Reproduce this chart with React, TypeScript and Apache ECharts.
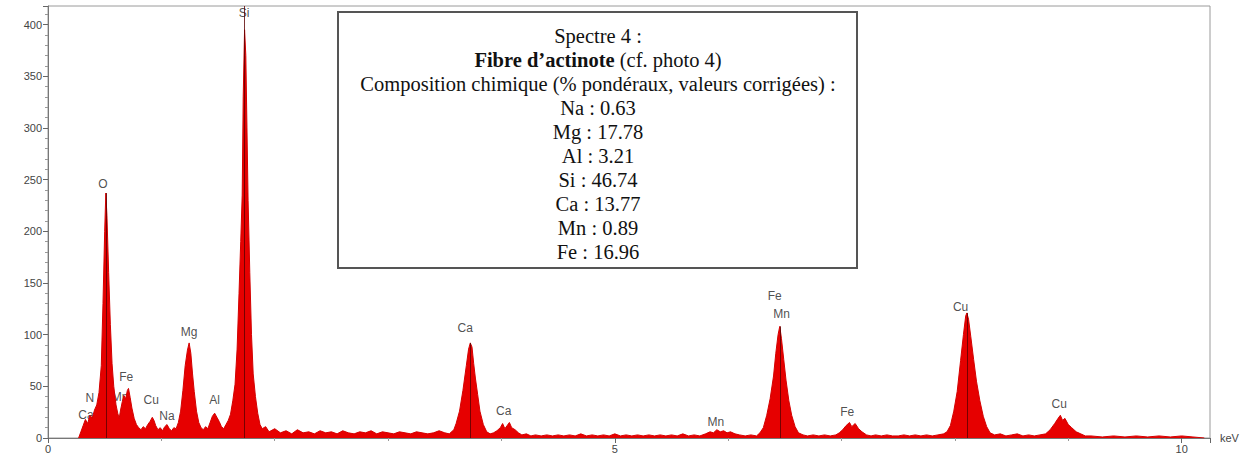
import React, { useEffect, useRef } from "react";
import * as echarts from "echarts";

// Spectrum points [keV, counts], grouped by region
const lowEnergyRegion: [number, number][] = [
  [0.27, 0], [0.29, 6], [0.31, 12], [0.33, 18], [0.35, 14], [0.37, 22], [0.39, 19], [0.41, 27],
  [0.43, 32], [0.45, 44], [0.47, 70], [0.485, 130], [0.5, 200], [0.51, 237], [0.52, 215],
  [0.535, 160], [0.55, 110], [0.565, 72], [0.58, 50], [0.6, 32], [0.615, 24], [0.628, 19],
  [0.64, 27], [0.655, 35], [0.67, 41], [0.685, 38], [0.7, 46], [0.71, 48], [0.725, 39],
  [0.74, 29], [0.76, 19], [0.78, 13], [0.8, 10], [0.82, 8], [0.84, 11], [0.86, 9], [0.88, 13],
  [0.9, 16], [0.92, 20], [0.935, 17], [0.95, 12], [0.97, 8], [0.99, 10], [1.01, 7], [1.03, 11],
  [1.05, 13], [1.07, 9], [1.09, 7], [1.11, 10], [1.13, 9], [1.15, 15], [1.17, 26], [1.19, 46],
  [1.21, 70], [1.23, 85], [1.245, 92], [1.26, 82], [1.275, 62], [1.29, 45], [1.31, 26],
  [1.33, 15], [1.35, 10], [1.37, 8], [1.39, 11], [1.41, 9], [1.43, 15], [1.45, 21], [1.47, 24],
  [1.49, 20], [1.51, 16], [1.53, 11], [1.55, 9], [1.57, 13], [1.59, 17],
];
const siliconPeak: [number, number][] = [
  [1.61, 23], [1.63, 36], [1.65, 52], [1.668, 86], [1.685, 140], [1.7, 190], [1.713, 235],
  [1.722, 330], [1.734, 395], [1.745, 370], [1.755, 300], [1.765, 230], [1.78, 160],
  [1.795, 100], [1.81, 62], [1.83, 40], [1.85, 24], [1.87, 13], [1.89, 9], [1.92, 11],
];
const midBackground: [number, number][] = [
  [1.95, 6], [2.0, 9], [2.05, 5], [2.1, 7], [2.15, 4], [2.2, 8], [2.25, 5], [2.3, 6], [2.35, 4],
  [2.4, 7], [2.45, 5], [2.5, 6], [2.55, 4], [2.6, 7], [2.65, 5], [2.7, 4], [2.75, 6], [2.8, 5],
  [2.85, 7], [2.9, 4], [2.95, 6], [3.0, 5], [3.05, 4], [3.1, 6], [3.15, 5], [3.2, 4], [3.25, 6],
  [3.3, 5], [3.35, 4], [3.4, 5], [3.45, 7], [3.5, 5], [3.54, 4],
];
const calciumPeaks: [number, number][] = [
  [3.58, 8], [3.6, 14], [3.63, 26], [3.66, 46], [3.69, 70], [3.71, 86], [3.725, 92], [3.74, 88],
  [3.755, 72], [3.77, 58], [3.79, 42], [3.81, 26], [3.84, 13], [3.87, 6], [3.9, 4], [3.93, 5],
  [3.96, 7], [3.99, 10], [4.01, 14], [4.03, 9], [4.05, 12], [4.07, 15], [4.09, 10], [4.12, 8],
  [4.15, 5], [4.18, 3], [4.22, 4], [4.26, 2], [4.3, 3],
];
const flatBackground: [number, number][] = [
  [4.35, 2], [4.4, 3], [4.45, 2], [4.5, 3], [4.55, 2], [4.6, 3], [4.65, 2], [4.7, 4], [4.75, 2],
  [4.8, 3], [4.85, 2], [4.9, 3], [4.95, 2], [5.0, 4], [5.05, 2], [5.1, 3], [5.15, 2], [5.2, 3],
  [5.25, 2], [5.3, 3], [5.35, 2], [5.4, 3], [5.45, 2], [5.5, 3], [5.55, 2], [5.6, 4], [5.65, 2],
  [5.7, 3], [5.75, 2], [5.8, 4],
];
const manganeseIronPeaks: [number, number][] = [
  [5.84, 6], [5.87, 5], [5.9, 8], [5.93, 6], [5.96, 7], [5.99, 5], [6.02, 6], [6.06, 4],
  [6.1, 3], [6.15, 2], [6.2, 3], [6.25, 2], [6.28, 5], [6.31, 10], [6.34, 22], [6.37, 38],
  [6.4, 60], [6.42, 82], [6.44, 100], [6.455, 108], [6.47, 96], [6.49, 76], [6.51, 56],
  [6.535, 36], [6.56, 22], [6.59, 11], [6.62, 5], [6.66, 3], [6.7, 2], [6.75, 3], [6.8, 2],
  [6.85, 3], [6.9, 2], [6.95, 3], [6.98, 5], [7.01, 8], [7.04, 12], [7.07, 15], [7.09, 11],
  [7.12, 14], [7.15, 9], [7.18, 6], [7.22, 3], [7.26, 2], [7.3, 3], [7.35, 2], [7.4, 3],
  [7.45, 2], [7.5, 2], [7.55, 3], [7.6, 2], [7.65, 3], [7.7, 2], [7.75, 3], [7.8, 2], [7.85, 3],
  [7.9, 4],
];
const copperPeaks: [number, number][] = [
  [7.93, 6], [7.96, 12], [7.99, 26], [8.02, 45], [8.05, 75], [8.075, 100], [8.095, 118],
  [8.105, 121], [8.12, 115], [8.14, 98], [8.165, 76], [8.19, 55], [8.22, 36], [8.25, 21],
  [8.28, 11], [8.31, 5], [8.35, 3], [8.4, 4], [8.45, 2], [8.5, 3], [8.55, 4], [8.6, 2], [8.65, 3],
  [8.7, 2], [8.75, 3], [8.8, 4], [8.84, 8], [8.88, 14], [8.91, 19], [8.93, 22], [8.95, 17],
  [8.97, 19], [9.0, 13], [9.03, 10], [9.07, 6], [9.11, 4], [9.15, 2], [9.2, 2], [9.3, 1],
  [9.4, 2], [9.5, 1], [9.6, 2], [9.7, 1], [9.8, 2], [9.9, 1], [10.0, 2], [10.1, 1], [10.2, 0],
];

// Peak identification labels: [keV, counts, element]
const peakLabels: [number, number, string][] = [
  [0.335, 22, "Ca"], [0.37, 39, "N"], [0.485, 246, "O"], [0.635, 40, "Mn"], [0.69, 59, "Fe"],
  [0.91, 37, "Cu"], [1.05, 21, "Na"], [1.245, 103, "Mg"], [1.47, 37, "Al"], [1.73, 411, "Si"],
  [3.68, 106, "Ca"], [4.02, 26, "Ca"], [5.89, 15, "Mn"], [6.41, 137, "Fe"], [6.47, 120, "Mn"],
  [7.05, 25, "Fe"], [8.05, 127, "Cu"], [8.92, 33, "Cu"],
];

// Element line markers: [keV, top counts]
const lineMarkers: [number, number][] = [
  [0.51, 237], [1.734, 418], [3.725, 92], [6.455, 108], [8.105, 121],
];

const boxLines: string[] = [
  "Spectre 4 :",
  "{b|Fibre d’actinote} (cf. photo 4)",
  "Composition chimique (% pondéraux, valeurs corrigées) :",
  "Na : 0.63",
  "Mg : 17.78",
  "Al : 3.21",
  "Si : 46.74",
  "Ca : 13.77",
  "Mn : 0.89",
  "Fe : 16.96",
];

const xTicks = { min: 0, max: 10.25, interval: 5 };
const yTicks = { min: 0, max: 418, interval: 50 };

export default function App() {
  const ref = useRef<HTMLDivElement>(null);
  useEffect(() => {
    if (!ref.current) return;
    const chart = echarts.init(ref.current, undefined, { renderer: "svg" });
    const spectrum = [
      ...lowEnergyRegion, ...siliconPeak, ...midBackground, ...calciumPeaks,
      ...flatBackground, ...manganeseIronPeaks, ...copperPeaks,
    ];
    const sans = "Liberation Sans";
    const serifFont = '20.5px "Liberation Serif", "Times New Roman", serif';
    const serifBold = 'bold 20.5px "Liberation Serif", "Times New Roman", serif';
    chart.setOption({
      animation: false,
      grid: {
        left: 48, top: 6, width: 1162, height: 432, show: true,
        borderColor: "#9a9a9a", borderWidth: 1, backgroundColor: "#fff",
      },
      xAxis: {
        type: "value", ...xTicks,
        axisLine: { onZero: false, lineStyle: { color: "#777" } },
        axisTick: { length: 5, lineStyle: { color: "#666" } },
        minorTick: { show: true, splitNumber: 5, length: 3, lineStyle: { color: "#999" } },
        splitLine: { show: false },
        axisLabel: { showMaxLabel: false, fontSize: 11, color: "#444", margin: 5, fontFamily: sans },
        name: "keV", nameLocation: "end", nameGap: 10,
        nameTextStyle: { fontSize: 11, color: "#444", fontFamily: sans, padding: [0, 0, 12, 0] },
      },
      yAxis: {
        type: "value", ...yTicks,
        axisLine: { show: true, lineStyle: { color: "#777" } },
        axisTick: { show: true, length: 5, lineStyle: { color: "#666" } },
        minorTick: { show: true, splitNumber: 5, length: 3, lineStyle: { color: "#999" } },
        splitLine: { show: false },
        axisLabel: { showMaxLabel: false, fontSize: 11, color: "#444", margin: 6, fontFamily: sans },
      },
      series: [
        {
          type: "line", data: spectrum, showSymbol: false, symbol: "none", silent: true,
          lineStyle: { color: "#d40000", width: 1 },
          areaStyle: { color: "#e60000", opacity: 1 },
          markLine: {
            silent: true, symbol: ["none", "none"], label: { show: false },
            lineStyle: { color: "#5a0000", width: 1, type: "solid", opacity: 0.8 },
            data: lineMarkers.map(([x, y]) => [{ coord: [x, 0] }, { coord: [x, y] }]),
          },
        },
        {
          type: "scatter", silent: true, symbolSize: 0,
          data: peakLabels.map(([x, y, t]) => ({ value: [x, y], name: t })),
          label: {
            show: true, position: "inside", formatter: "{b}", fontSize: 12, color: "#222",
            fontFamily: sans, backgroundColor: "rgba(255,255,255,0.55)", padding: [0, 1],
          },
        },
      ],
      graphic: [
        {
          type: "rect", shape: { x: 338, y: 12, width: 519, height: 256 },
          style: { fill: "#fff", stroke: "#555", lineWidth: 2 }, z: 100,
        },
        ...boxLines.map((t, i) => ({
          type: "text", x: 598, y: 35.5 + i * 24, z: 101,
          style: {
            text: t, align: "center", verticalAlign: "middle",
            font: serifFont, fill: "#111",
            rich: { b: { font: serifBold, fill: "#111" } },
          },
        })),
      ],
    });
    return () => chart.dispose();
  }, []);
  return (
    <div
      ref={ref}
      style={{ position: "fixed", left: 0, top: 0, width: 1254, height: 461, background: "#fff" }}
    />
  );
}
